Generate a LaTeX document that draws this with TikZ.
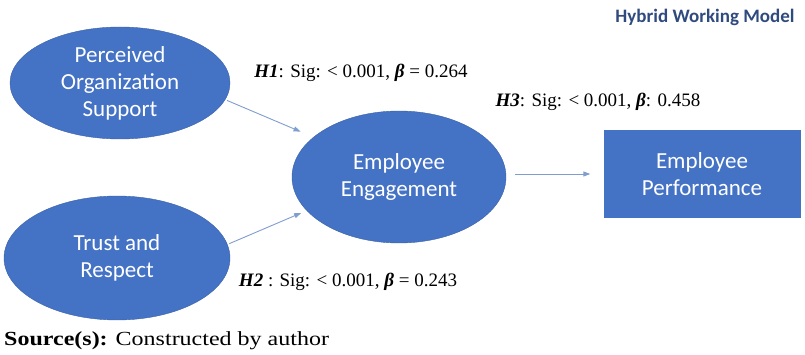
\documentclass[tikz,border=0pt]{standalone}
\usepackage{fontspec}
\setmainfont{Liberation Serif}
\newfontfamily\calibri{Carlito}
\usetikzlibrary{arrows.meta, shapes.geometric, positioning}
\definecolor{nodeblue}{HTML}{4472C4}
\definecolor{linkblue}{HTML}{7F9DCF}
\definecolor{titleblue}{HTML}{2F4A7E}

\begin{document}
\begin{tikzpicture}[x=1pt,y=-1pt,
  ellnode/.style={ellipse, fill=nodeblue, draw=nodeblue!85!black, text=white,
    inner sep=0pt, align=center, font=\calibri\fontsize{23}{27}\selectfont},
  boxnode/.style={rectangle, fill=nodeblue, text=white, inner sep=0pt,
    align=center, minimum width=197pt, minimum height=88pt,
    font=\calibri\fontsize{23}{27}\selectfont},
  linkarrow/.style={draw=linkblue, line width=0.9pt, -{Triangle[length=7pt,width=5pt]}},
  hyplabel/.style={font=\fontsize{19}{23}\selectfont, inner sep=0pt}]
\useasboundingbox (0,0) rectangle (805,355);

% Nodes
\node[ellnode, minimum width=220pt, minimum height=112pt] (pos) at (120,83)
  {Perceived\\Organization\\Support};
\node[ellnode, minimum width=226pt, minimum height=124pt] (trust) at (117,258)
  {Trust and\\Respect};
\node[ellnode, minimum width=214pt, minimum height=132pt] (engage) at (399,177)
  {Employee\\Engagement};
\node[boxnode] (perf) at (702,174) {Employee\\Performance};

% Arrows
\draw[linkarrow, shorten <=2pt, shorten >=14pt] (pos.-9) -- (engage.155);
\draw[linkarrow, shorten <=2pt, shorten >=6pt] (trust.7) -- (engage.-160);
\draw[linkarrow, shorten <=9pt, shorten >=13pt] (engage.east |- perf.west) -- (perf.west);

% Hypothesis labels
\node[hyplabel] (h1) at (361,73) {\textbf{\textit{H1}}: Sig: < 0.001, \textbf{\textit{β}} = 0.264};
\node[hyplabel] (h3) at (598,102) {\textbf{\textit{H3}}: Sig: < 0.001, \textbf{\textit{β}}: 0.458};
\node[hyplabel] (h2) at (348,282) {\textbf{\textit{H2}} : Sig: < 0.001, \textbf{\textit{β}} = 0.243};

% Title and source
\node[font=\calibri\bfseries\fontsize{19}{22}\selectfont, text=titleblue,
  inner sep=0pt] (title) at (705,17) {Hybrid Working Model};
\node[anchor=west, font=\fontsize{20}{24}\selectfont, inner sep=0pt] (src)
  at (4,341) {\scalebox{1.2}[1]{\textbf{Source(s):} Constructed by author}};

\end{tikzpicture}
\end{document}
